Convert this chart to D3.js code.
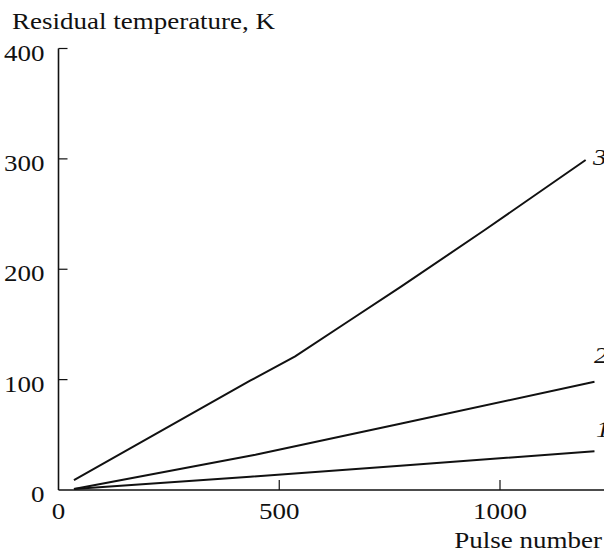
<!DOCTYPE html>
<html><head><meta charset="utf-8">
<script src="https://cdn.jsdelivr.net/npm/d3@7"></script>
<style>body{margin:0;background:#fff}svg{display:block}text{font-family:"Liberation Serif","Times New Roman",serif;fill:#111}</style>
</head><body>
<svg id="c" width="604" height="554"></svg>
<script>
const xTicks = [500, 1000];
const yTicks = [100, 200, 300, 400];
const xTickLabels = ["0", "500", "1000"];
const xTickLabelValues = [0, 500, 1000];
const yTickLabels = ["0", "100", "200", "300", "400"];
const yTickLabelValues = [0, 100, 200, 300, 400];
const seriesNames = ["1", "2", "3"];
const series1 = [[35,1],[434,12],[774,22],[1214,35]];
const series2 = [[35,1],[446,32],[774,60],[1214,98]];
const series3 = [[35,9],[434,99],[536,121],[661,154],[775,184],[967,236],[1194,299]];
const allSeries = [series1, series2, series3];

const svg = d3.select("#c");
const x = d3.scaleLinear().domain([0, 1000]).range([58.5, 500]);
const y = d3.scaleLinear().domain([0, 400]).range([490, 48.5]);
const SX = 1.2, FS = 22.5;

function txt(t, px, py, anchor, italic) {
  const g = svg.append("g").attr("transform", `translate(${px},${py}) scale(${SX},1)`);
  g.append("text").attr("text-anchor", anchor || "start").attr("font-size", FS)
    .attr("font-style", italic ? "italic" : "normal").text(t);
}

// axes lines
svg.append("line").attr("x1", x(0)).attr("x2", x(0)).attr("y1", y(400)).attr("y2", y(0))
  .attr("stroke", "#111").attr("stroke-width", 1.6);
svg.append("line").attr("x1", x(0)).attr("x2", 604).attr("y1", y(0)).attr("y2", y(0))
  .attr("stroke", "#111").attr("stroke-width", 1.6);

// ticks
yTicks.forEach(v => svg.append("line").attr("x1", x(0)).attr("x2", x(0) + 9)
  .attr("y1", y(v)).attr("y2", y(v)).attr("stroke", "#111").attr("stroke-width", 1.2));
xTicks.forEach(v => svg.append("line").attr("x1", x(v)).attr("x2", x(v))
  .attr("y1", y(0)).attr("y2", y(0) - 10).attr("stroke", "#111").attr("stroke-width", 1.2));

// tick labels
yTickLabels.forEach((t, i) => txt(t, 44.5, y(yTickLabelValues[i]) + 12, "end"));
xTickLabels.forEach((t, i) => txt(t, x(xTickLabelValues[i]), 519, "middle"));

// titles
txt("Residual temperature, K", 12, 29, "start");
txt("Pulse number", 602, 548, "end");

// lines
const line = d3.line().x(d => x(d[0])).y(d => y(d[1]));
allSeries.forEach(s => svg.append("path").attr("d", line(s)).attr("fill", "none")
  .attr("stroke", "#111").attr("stroke-width", 2));

// series labels
const labelPos = [[596, 437], [594, 363], [593, 165]];
seriesNames.forEach((n, i) => txt(n, labelPos[i][0], labelPos[i][1], "start", true));
</script>
</body></html>
